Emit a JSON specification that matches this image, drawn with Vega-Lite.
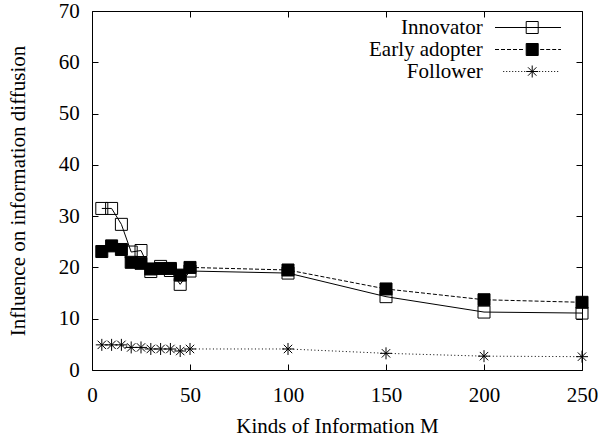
{
  "$schema": "https://vega.github.io/schema/vega-lite/v6.json",
  "width": 490,
  "height": 359,
  "autosize": {"type": "none"},
  "padding": {"left": 92, "top": 11, "right": 16, "bottom": 68},
  "background": "white",
  "config": {
    "font": "Liberation Serif",
    "view": {"stroke": "black", "strokeWidth": 1},
    "axis": {
      "grid": false,
      "domain": false,
      "tickColor": "black",
      "tickWidth": 1,
      "tickSize": -6,
      "labelFont": "Liberation Serif",
      "labelFontSize": 21,
      "labelColor": "black",
      "labelFlush": false,
      "labelOverlap": false,
      "titleFont": "Liberation Serif",
      "titleFontSize": 21,
      "titleFontWeight": "normal",
      "titleColor": "black"
    },
    "legend": {
      "orient": "none",
      "legendX": 429.7,
      "legendY": 6,
      "padding": 0,
      "rowPadding": 0,
      "symbolSize": 144,
      "symbolStrokeWidth": 1,
      "labelAlign": "right",
      "labelFont": "Liberation Serif",
      "labelFontSize": 21,
      "labelColor": "black",
      "labelLimit": 300
    }
  },
  "data": {
    "values": [
      {"M": 5, "series": "Innovator", "v": 31.5},
      {"M": 10, "series": "Innovator", "v": 31.5},
      {"M": 15, "series": "Innovator", "v": 28.4},
      {"M": 20, "series": "Innovator", "v": 23.0},
      {"M": 25, "series": "Innovator", "v": 23.3},
      {"M": 30, "series": "Innovator", "v": 19.2},
      {"M": 35, "series": "Innovator", "v": 20.2},
      {"M": 40, "series": "Innovator", "v": 19.4},
      {"M": 45, "series": "Innovator", "v": 16.7},
      {"M": 50, "series": "Innovator", "v": 19.3},
      {"M": 100, "series": "Innovator", "v": 18.9},
      {"M": 150, "series": "Innovator", "v": 14.3},
      {"M": 200, "series": "Innovator", "v": 11.3},
      {"M": 250, "series": "Innovator", "v": 11.1},
      {"M": 5, "series": "Early adopter", "v": 23.1},
      {"M": 10, "series": "Early adopter", "v": 24.2},
      {"M": 15, "series": "Early adopter", "v": 23.5},
      {"M": 20, "series": "Early adopter", "v": 21.0},
      {"M": 25, "series": "Early adopter", "v": 20.8},
      {"M": 30, "series": "Early adopter", "v": 19.7},
      {"M": 35, "series": "Early adopter", "v": 19.8},
      {"M": 40, "series": "Early adopter", "v": 19.8},
      {"M": 45, "series": "Early adopter", "v": 18.5},
      {"M": 50, "series": "Early adopter", "v": 20.0},
      {"M": 100, "series": "Early adopter", "v": 19.5},
      {"M": 150, "series": "Early adopter", "v": 15.8},
      {"M": 200, "series": "Early adopter", "v": 13.7},
      {"M": 250, "series": "Early adopter", "v": 13.2},
      {"M": 5, "series": "Follower", "v": 4.9},
      {"M": 10, "series": "Follower", "v": 4.9},
      {"M": 15, "series": "Follower", "v": 4.9},
      {"M": 20, "series": "Follower", "v": 4.4},
      {"M": 25, "series": "Follower", "v": 4.4},
      {"M": 30, "series": "Follower", "v": 4.1},
      {"M": 35, "series": "Follower", "v": 4.1},
      {"M": 40, "series": "Follower", "v": 4.1},
      {"M": 45, "series": "Follower", "v": 3.7},
      {"M": 50, "series": "Follower", "v": 4.1},
      {"M": 100, "series": "Follower", "v": 4.1},
      {"M": 150, "series": "Follower", "v": 3.25},
      {"M": 200, "series": "Follower", "v": 2.7},
      {"M": 250, "series": "Follower", "v": 2.6}
    ]
  },
  "layer": [
    {
      "transform": [{"filter": {"field": "series", "equal": "Innovator"}}],
      "mark": {"type": "line", "color": "black", "strokeWidth": 1},
      "encoding": {
        "x": {
          "field": "M", "type": "quantitative",
          "scale": {"domain": [0, 250], "nice": false, "zero": false},
          "axis": {"orient": "bottom", "values": [0, 50, 100, 150, 200, 250], "title": "Kinds of Information M", "labelPadding": 20, "titlePadding": 10}
        },
        "y": {
          "field": "v", "type": "quantitative",
          "scale": {"domain": [0, 70], "nice": false},
          "axis": {"orient": "left", "values": [0, 10, 20, 30, 40, 50, 60, 70], "title": "Influence on information diffusion", "labelPadding": 18.7, "titlePadding": 30}
        }
      }
    },
    {
      "transform": [{"filter": {"field": "series", "equal": "Early adopter"}}],
      "mark": {"type": "line", "color": "black", "strokeWidth": 1, "strokeDash": [4, 2]},
      "encoding": {
        "x": {"field": "M", "type": "quantitative", "axis": null},
        "y": {"field": "v", "type": "quantitative", "axis": null}
      }
    },
    {
      "transform": [{"filter": {"field": "series", "equal": "Follower"}}],
      "mark": {"type": "line", "color": "black", "strokeWidth": 1, "strokeDash": [1, 2.5]},
      "encoding": {
        "x": {"field": "M", "type": "quantitative", "axis": null},
        "y": {"field": "v", "type": "quantitative", "axis": null}
      }
    },
    {
      "transform": [{"filter": {"field": "series", "equal": "Innovator"}}],
      "mark": {"type": "point", "shape": "square", "size": 144, "filled": false, "fill": "transparent", "stroke": "black", "strokeWidth": 1, "opacity": 1},
      "encoding": {
        "x": {
          "field": "M", "type": "quantitative",
          "axis": {"orient": "top", "values": [0, 50, 100, 150, 200, 250], "labels": false, "title": null}
        },
        "y": {
          "field": "v", "type": "quantitative",
          "axis": {"orient": "right", "values": [0, 10, 20, 30, 40, 50, 60, 70], "labels": false, "title": null}
        }
      }
    },
    {
      "transform": [{"filter": {"field": "series", "equal": "Early adopter"}}],
      "mark": {"type": "point", "shape": "square", "size": 144, "filled": true, "fill": "black", "stroke": "black", "strokeWidth": 1, "opacity": 1},
      "encoding": {
        "x": {"field": "M", "type": "quantitative", "axis": null},
        "y": {"field": "v", "type": "quantitative", "axis": null}
      }
    },
    {
      "transform": [{"filter": {"field": "series", "equal": "Follower"}}],
      "mark": {"type": "point", "shape": "M-1,0L1,0M0,-1L0,1M-0.7,-0.7L0.7,0.7M-0.7,0.7L0.7,-0.7", "size": 144, "filled": false, "fill": "transparent", "stroke": "black", "strokeWidth": 1, "opacity": 1},
      "encoding": {
        "x": {"field": "M", "type": "quantitative", "axis": null},
        "y": {"field": "v", "type": "quantitative", "axis": null}
      }
    },
    {
      "transform": [{"filter": {"field": "series", "equal": "none"}}],
      "mark": {"type": "point", "filled": false, "stroke": "black", "strokeWidth": 1, "opacity": 1},
      "encoding": {
        "x": {"field": "M", "type": "quantitative", "axis": null},
        "y": {"field": "v", "type": "quantitative", "axis": null},
        "shape": {
          "field": "series", "type": "nominal",
          "scale": {"domain": ["Innovator", "Early adopter", "Follower"], "range": [
            "M-6.2,0L4.8,0M-1,-1L1,-1L1,1L-1,1Z",
            "M-6.2,0L-5.53,0M-5.2,0L-4.53,0M-4.2,0L-3.53,0M-3.2,0L-2.53,0M-2.2,0L-1.53,0M1.33,0L2,0M2.33,0L3,0M3.33,0L4,0M4.33,0L4.8,0M-1,-1L1,-1L1,1L-1,1Z",
            "M-4.83,0L-4.66,0M-4.33,0L-4.16,0M-3.83,0L-3.66,0M-3.33,0L-3.16,0M-2.83,0L-2.66,0M-2.33,0L-2.16,0M-1.83,0L-1.66,0M-1.33,0L-1.16,0M1.16,0L1.33,0M1.66,0L1.83,0M2.16,0L2.33,0M2.66,0L2.83,0M3.16,0L3.33,0M3.66,0L3.83,0M4.16,0L4.33,0M-1,0L1,0M0,-1L0,1M-0.7,-0.7L0.7,0.7M-0.7,0.7L0.7,-0.7"
          ]},
          "legend": {"title": null, "labelOffset": -60}
        },
        "fill": {
          "field": "series", "type": "nominal",
          "scale": {"domain": ["Innovator", "Early adopter", "Follower"], "range": ["transparent", "black", "transparent"]},
          "legend": {"title": null, "labelOffset": -60}
        }
      }
    }
  ],
  "resolve": {"axis": {"x": "independent", "y": "independent"}}
}
